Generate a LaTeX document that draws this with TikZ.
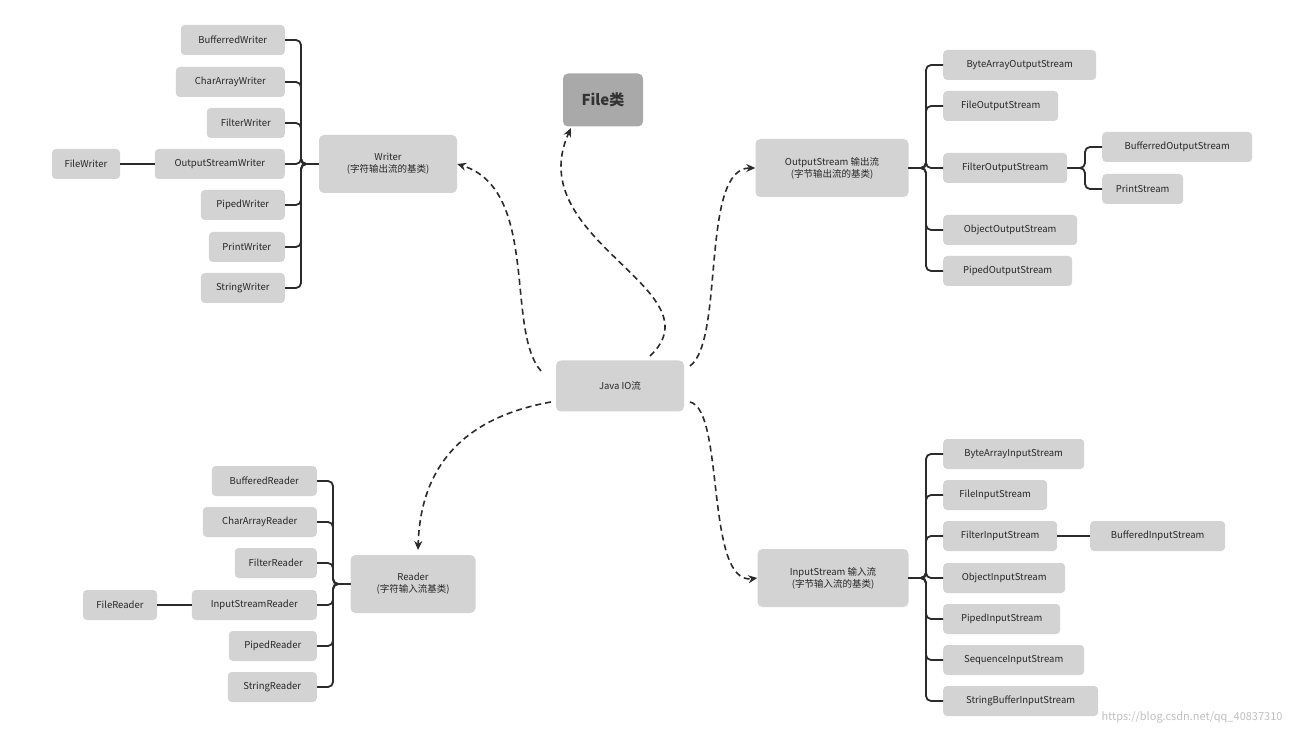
\documentclass[tikz,border=0pt]{standalone}
\usepackage{fontspec}
\setmainfont{Noto Sans CJK SC}
\usetikzlibrary{arrows.meta}
\definecolor{boxg}{HTML}{D3D3D3}
\definecolor{fileg}{HTML}{A9A9A9}
\definecolor{lineg}{HTML}{2B2B2B}
\begin{document}
\begin{tikzpicture}[x=1pt,y=-1pt,
  leaf/.style={fill=boxg,rounded corners=4pt,minimum height=30pt,inner sep=2pt,font=\fontsize{9.5}{11}\selectfont,text=black!85},
  main/.style={fill=boxg,rounded corners=5pt,minimum height=58pt,align=center,font=\fontsize{9.5}{12}\selectfont,text=black!85},
  tree/.style={draw=lineg,line width=1.8pt,rounded corners=5pt},
  dasharr/.style={draw=lineg,line width=1.6pt,dash pattern=on 6pt off 4pt,-{Stealth[length=9pt,width=8pt]}}]
\useasboundingbox (0,0) rectangle (1294,735);
% main nodes
\node[main,minimum width=128pt,minimum height=51pt] (io) at (620,386) {Java IO流};
\node[fill=fileg,rounded corners=5pt,minimum width=80pt,minimum height=53pt,font=\bfseries\fontsize{15}{17}\selectfont,text=black!80] (file) at (603,100) {File类};
\node[main,minimum width=138pt] (writer) at (388,164) {Writer\\(字符输出流的基类)};
\node[main,minimum width=153pt] (out) at (832,168) {OutputStream 输出流\\(字节输出流的基类)};
\node[main,minimum width=125pt] (reader) at (413,584) {Reader\\(字符输入流基类)};
\node[main,minimum width=151pt] (in) at (833,578) {InputStream 输入流\\(字节输入流的基类)};
% Writer children
\foreach \n/\t/\y/\l in {w1/BufferredWriter/40/181,w2/CharArrayWriter/82/176,w3/FilterWriter/123/207,w4/OutputStreamWriter/164/155,w5/PipedWriter/205/201,w6/PrintWriter/247/209,w7/StringWriter/288/201}{
  \pgfmathsetmacro\w{285-\l}
  \node[leaf,anchor=east,minimum width=\w pt] (\n) at (285,\y) {\t};
  \draw[tree] (writer.west) -| (301,\y) -- (\n.east);
}
\node[leaf,minimum width=68pt] (fw) at (86,164) {FileWriter};
\draw[tree] (fw.east) -- (w4.west);
% Reader children
\foreach \n/\t/\y/\l in {r1/BufferedReader/481/212,r2/CharArrayReader/522/203,r3/FilterReader/563/235,r4/InputStreamReader/605/192,r5/PipedReader/646/229,r6/StringReader/687/228}{
  \pgfmathsetmacro\w{317-\l}
  \node[leaf,anchor=east,minimum width=\w pt] (\n) at (317,\y) {\t};
  \draw[tree] (reader.west) -| (333,\y) -- (\n.east);
}
\node[leaf,minimum width=74pt] (fr) at (120,605) {FileReader};
\draw[tree] (fr.east) -- (r4.west);
% OutputStream children
\foreach \n/\t/\y/\r in {o1/ByteArrayOutputStream/65/1096,o2/FileOutputStream/106/1058,o3/FilterOutputStream/168/1067,o4/ObjectOutputStream/230/1077,o5/PipedOutputStream/271/1072}{
  \pgfmathsetmacro\w{\r-943}
  \node[leaf,anchor=west,minimum width=\w pt] (\n) at (943,\y) {\t};
  \draw[tree] (out.east) -| (926,\y) -- (\n.west);
}
\node[leaf,anchor=west,minimum width=150pt] (bo) at (1102,147) {BufferredOutputStream};
\node[leaf,anchor=west,minimum width=81pt] (ps) at (1102,189) {PrintStream};
\draw[tree] (o3.east) -| (1085,147) -- (bo.west);
\draw[tree] (o3.east) -| (1085,189) -- (ps.west);
% InputStream children
\foreach \n/\t/\y/\r in {i1/ByteArrayInputStream/454/1084,i2/FileInputStream/495/1047,i3/FilterInputStream/536/1057,i4/ObjectInputStream/578/1065,i5/PipedInputStream/619/1060,i6/SequenceInputStream/660/1084,i7/StringBufferInputStream/701/1098}{
  \pgfmathsetmacro\w{\r-943}
  \node[leaf,anchor=west,minimum width=\w pt] (\n) at (943,\y) {\t};
  \draw[tree] (in.east) -| (926,\y) -- (\n.west);
}
\node[leaf,anchor=west,minimum width=135pt] (bi) at (1090,536) {BufferedInputStream};
\draw[tree] (i3.east) -- (bi.west);
% dashed arrows
\coordinate (a1) at (541,371);
\coordinate (a2) at (650,356);
\coordinate (a3) at (690,366);
\coordinate (a4) at (551,402);
\coordinate (a5) at (690,402);
\draw[dasharr] (a1) .. controls (505,330) and (540,190) .. (writer.east);
\draw[dasharr] (a2) .. controls (720,290) and (520,240) .. (571,128);
\draw[dasharr] (a3) .. controls (725,340) and (700,168) .. (out.west);
\draw[dasharr] (a4) .. controls (450,420) and (420,480) .. (418,550);
\draw[dasharr] (a5) .. controls (725,410) and (705,585) .. (in.west);
\node[text=black!25,font=\fontsize{11}{13}\selectfont,anchor=east] (wm) at (1286,717) {https://blog.csdn.net/qq\_40837310};
\end{tikzpicture}
\end{document}
